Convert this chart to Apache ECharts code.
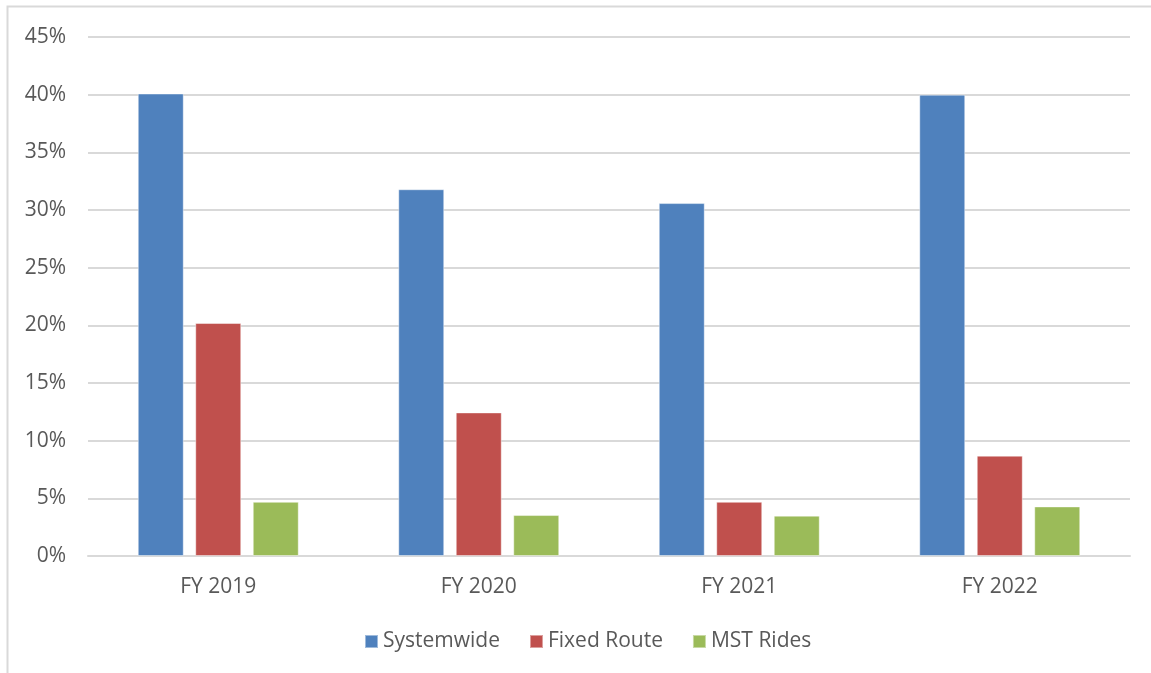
<!DOCTYPE html>
<html>
<head>
<meta charset="utf-8">
<script src="https://cdn.jsdelivr.net/npm/echarts@6/dist/echarts.min.js"></script>
<style>
  html, body { margin: 0; padding: 0; background: #fff; }
  #chart { width: 1151px; height: 673px; }
</style>
</head>
<body>
<div id="chart"></div>
<script>
const categories = ['FY 2019', 'FY 2020', 'FY 2021', 'FY 2022']
const systemwide = [40.1, 31.8, 30.6, 40.0]
const fixedRoute = [20.2, 12.45, 4.7, 8.7]
const mstRides = [4.7, 3.55, 3.5, 4.3]

const font = 'Open Sans, Noto Sans, sans-serif'
const textColor = '#595959'

const chart = echarts.init(document.getElementById('chart'))

function barSeries (name, data, color) {
  return {
    name: name,
    type: 'bar',
    data: data,
    barWidth: 46,
    barGap: '25%',
    itemStyle: {
      color: color,
      borderColor: 'rgba(255,255,255,0.45)',
      borderWidth: 1
    }
  }
}

const option = {
  animation: false,
  graphic: [
    {
      type: 'rect',
      shape: { x: 7.5, y: 6.5, width: 1160, height: 700 },
      style: { fill: 'none', stroke: '#d9d9d9', lineWidth: 2 },
      z: 0
    }
  ],
  legend: {
    bottom: 16,
    left: 359,
    itemWidth: 13,
    itemHeight: 13,
    itemGap: 29,
    icon: 'rect',
    textStyle: {
      color: textColor,
      fontSize: 21,
      fontFamily: font
    },
    data: ['Systemwide', 'Fixed Route', 'MST Rides']
  },
  grid: {
    left: 88,
    right: 21,
    top: 37,
    bottom: 117,
    containLabel: false
  },
  xAxis: {
    type: 'category',
    data: categories,
    axisLine: { lineStyle: { color: '#d9d9d9', width: 2 } },
    axisTick: { show: false },
    axisLabel: {
      color: textColor,
      fontSize: 21,
      fontFamily: font,
      margin: 21
    }
  },
  yAxis: {
    type: 'value',
    min: 0,
    max: 45,
    interval: 5,
    axisLine: { show: false },
    axisTick: { show: false },
    axisLabel: {
      formatter: '{value}%',
      color: textColor,
      fontSize: 21,
      fontFamily: font,
      margin: 22
    },
    splitLine: { lineStyle: { color: '#d9d9d9', width: 2 } }
  },
  series: [
    barSeries('Systemwide', systemwide, '#4f81bd'),
    barSeries('Fixed Route', fixedRoute, '#c0504d'),
    barSeries('MST Rides', mstRides, '#9bbb59')
  ]
}

chart.setOption(option)
</script>
</body>
</html>
